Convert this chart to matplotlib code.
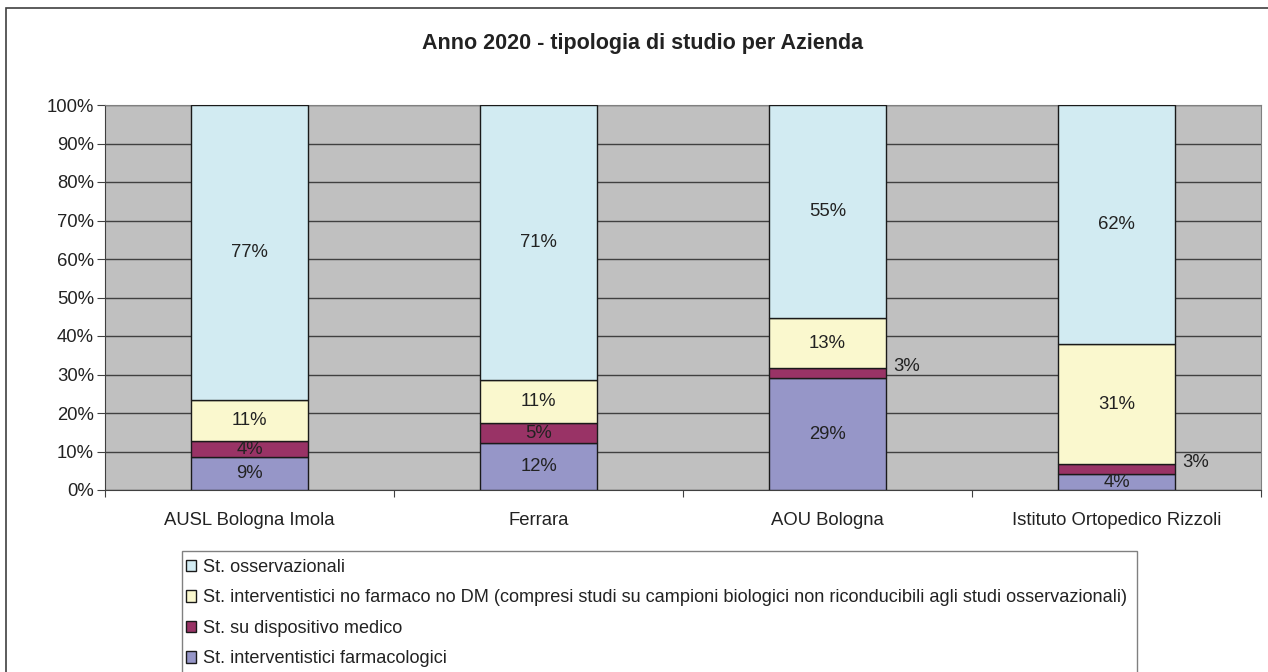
import matplotlib
matplotlib.use("Agg")
import matplotlib.pyplot as plt
from matplotlib.patches import Rectangle
from matplotlib.ticker import FixedLocator, FuncFormatter

plt.rcParams['font.family'] = ['Liberation Sans', 'DejaVu Sans']

categories = ["AUSL Bologna Imola", "Ferrara", "AOU Bologna", "Istituto Ortopedico Rizzoli"]
series_names = [
    "St. interventistici farmacologici",
    "St. su dispositivo medico",
    "St. interventistici no farmaco no DM (compresi studi su campioni biologici non riconducibili agli studi osservazionali)",
    "St. osservazionali",
]
farmacologici = [8.6, 12.1, 29.0, 4.1]
dispositivo = [4.0, 5.3, 2.6, 2.6]
no_farmaco = [10.8, 11.2, 13.1, 31.2]
osservazionali = [76.6, 71.4, 55.3, 62.1]
series_values = [farmacologici, dispositivo, no_farmaco, osservazionali]
colors = ["#9696c8", "#993366", "#faf8ce", "#d2ebf2"]
outside_labels = {(1, 2), (1, 3)}  # (series, category) labelled beside the bar

W, H = 1268, 672
fig = plt.figure(figsize=(W / 100, H / 100), dpi=100)
ax = fig.add_axes([105 / W, 1 - 490 / H, (1261 - 105) / W, (490 - 105) / H])
ax.set_facecolor("#c0c0c0")

x = list(range(len(categories)))
bottom = [0.0] * len(categories)
containers = []
for si, (vals, col) in enumerate(zip(series_values, colors)):
    bc = ax.bar(x, vals, width=0.405, bottom=bottom, color=col, edgecolor="#1a1a1a",
                linewidth=1.0, zorder=3, label=series_names[si])
    containers.append(bc)
    for ci, (rect, v) in enumerate(zip(bc.patches, vals)):
        txt = f"{v:.0f}%"
        cy = rect.get_y() + rect.get_height() / 2
        if (si, ci) in outside_labels:
            ax.annotate(txt, xy=(rect.get_x() + rect.get_width(), cy), xytext=(5, 5),
                        textcoords="offset points", ha="left", va="center",
                        fontsize=13.3, color="#222222", zorder=5)
        else:
            ax.annotate(txt, xy=(rect.get_x() + rect.get_width() / 2, cy), xytext=(0, 0),
                        textcoords="offset points", ha="center", va="center",
                        fontsize=13.3, color="#222222", zorder=5)
    bottom = [b + v for b, v in zip(bottom, vals)]

ax.set_xlim(-0.5, len(categories) - 0.5)
ax.set_ylim(0, 100)
ax.yaxis.set_major_locator(FixedLocator(list(range(0, 101, 10))))
ax.yaxis.set_major_formatter(FuncFormatter(lambda v, p: f"{v:.0f}%"))
ax.grid(axis="y", color="#404040", linewidth=1.0, zorder=1)
ax.set_axisbelow(True)

ax.xaxis.set_major_locator(FixedLocator([i - 0.5 for i in range(len(categories) + 1)]))
ax.xaxis.set_major_formatter(FuncFormatter(lambda v, p: ""))
ax.xaxis.set_minor_locator(FixedLocator(x))
ax.set_xticks(x, categories, minor=True)
ax.tick_params(axis="x", which="major", length=5, color="#404040", direction="out")
ax.tick_params(axis="x", which="minor", length=0, pad=16, labelsize=13.3, labelcolor="#222222")
ax.tick_params(axis="y", length=6, color="#404040", pad=2, labelsize=13.3, labelcolor="#222222")

for side in ["top", "right"]:
    ax.spines[side].set_color("#808080")
for side in ["left", "bottom"]:
    ax.spines[side].set_color("#404040")

fig.text(643 / W, 1 - 44 / H, "Anno 2020 - tipologia di studio per Azienda",
         ha="center", va="center", fontsize=15.5, fontweight="bold", color="#222222")

# legend (reverse order: top entry is the topmost series)
handles = containers[::-1]
labels = series_names[::-1]
leg = fig.legend(handles, labels, loc="upper left",
                 bbox_to_anchor=(186 / W, 1 - 559 / H), bbox_transform=fig.transFigure,
                 frameon=False, fontsize=13.1, handlelength=0.56, handleheight=0.56,
                 handletextpad=0.4, labelspacing=0.74, borderpad=0, borderaxespad=0)
for t in leg.get_texts():
    t.set_color("#222222")

fig.patches.append(Rectangle((182 / W, -0.2), (1137 - 182) / W, (1 - 551 / H) + 0.2,
                             transform=fig.transFigure, fill=False, edgecolor="#808080",
                             linewidth=1.0, zorder=0))
fig.patches.append(Rectangle((6 / W, -0.2), 1.5, (1 - 8 / H) + 0.2,
                             transform=fig.transFigure, fill=False, edgecolor="#404040",
                             linewidth=1.2, zorder=0))

fig.savefig("out.png", dpi=100)
